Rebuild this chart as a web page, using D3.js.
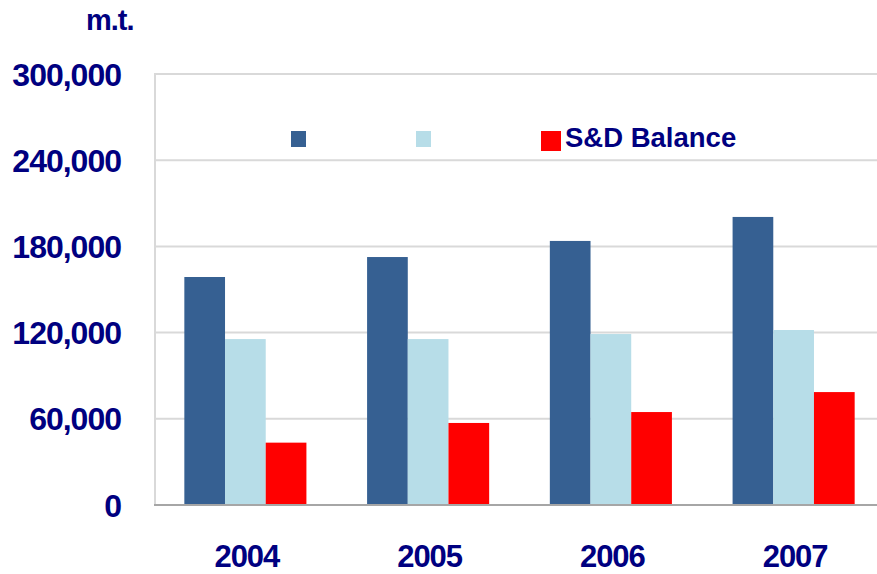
<!DOCTYPE html>
<html>
<head>
<meta charset="utf-8">
<script src="https://cdn.jsdelivr.net/npm/d3@7"></script>
<style>
  html, body { margin: 0; padding: 0; background: #fff; }
  svg { display: block; }
  text { font-family: "Liberation Sans", Arial, sans-serif; font-weight: bold; fill: #000080; }
</style>
</head>
<body>
<div id="chart"></div>
<script>
/* grouped bar chart: supply, demand and S&D balance (m.t.) */

const years = ['2004', '2005', '2006', '2007'];
const seriesNames = ['', '', 'S&D Balance'];
const seriesColors = ['#366092', '#b7dde8', '#ff0000'];
const supply = [158700, 172600, 183800, 200500];
const demand = [115500, 115500, 119000, 121800];
const balance = [43400, 57100, 64700, 78600];
const yTicks = [0, 60000, 120000, 180000, 240000, 300000];

const W = 877, H = 574;
const plotLeft = 155, plotTop = 74, plotBottom = 505;

const svg = d3.select('#chart').append('svg')
  .attr('width', W).attr('height', H);

const y = d3.scaleLinear().domain([0, 300000]).range([plotBottom, plotTop]);
const x = d3.scaleBand().domain(years).range([plotLeft - 1, 885])
  .paddingInner(0.332).paddingOuter(0.166);
const xs = d3.scaleBand().domain([0, 1, 2]).range([0, x.bandwidth()]);

// gridlines
svg.append('g')
  .selectAll('line')
  .data(yTicks.filter((d) => d > 0))
  .join('line')
  .attr('x1', plotLeft).attr('x2', W)
  .attr('y1', (d) => y(d)).attr('y2', (d) => y(d))
  .attr('stroke', '#d9d9d9').attr('stroke-width', 2);

// y axis line
svg.append('line')
  .attr('x1', plotLeft).attr('x2', plotLeft)
  .attr('y1', plotTop - 1).attr('y2', plotBottom)
  .attr('stroke', '#d9d9d9').attr('stroke-width', 2);

// bars
const rows = years.map((yr, i) => ({ year: yr, vals: [supply[i], demand[i], balance[i]] }));
svg.append('g')
  .selectAll('g')
  .data(rows)
  .join('g')
  .attr('transform', (d) => `translate(${x(d.year)},0)`)
  .selectAll('rect')
  .data((d) => d.vals.map((v, k) => ({ v, k })))
  .join('rect')
  .attr('x', (d) => xs(d.k))
  .attr('width', xs.bandwidth())
  .attr('y', (d) => y(d.v))
  .attr('height', (d) => y(0) - y(d.v))
  .attr('fill', (d) => seriesColors[d.k]);

// baseline
svg.append('line')
  .attr('x1', plotLeft - 1).attr('x2', W)
  .attr('y1', plotBottom).attr('y2', plotBottom)
  .attr('stroke', '#a6a6a6').attr('stroke-width', 2);

// y tick labels
const fmt = d3.format(',');
svg.append('g')
  .selectAll('text')
  .data(yTicks)
  .join('text')
  .attr('x', 121)
  .attr('y', (d) => y(d))
  .attr('dy', '0.36em')
  .attr('text-anchor', 'end')
  .style('font-size', '32px')
  .style('letter-spacing', '-1px')
  .text((d) => fmt(d));

// x tick labels
svg.append('g')
  .selectAll('text')
  .data(years)
  .join('text')
  .attr('x', (d) => x(d) + x.bandwidth() / 2 + 1.5)
  .attr('y', 567)
  .attr('text-anchor', 'middle')
  .style('font-size', '31px')
  .style('letter-spacing', '-1px')
  .text((d) => d);

// unit label
svg.append('text')
  .attr('x', 86).attr('y', 30)
  .style('font-size', '29px')
  .style('letter-spacing', '-1px')
  .text('m.t.');

// legend
const legendX = [291, 416, 541];
const legendSize = [15, 15, 20];
const legend = svg.append('g');
seriesNames.forEach((name, k) => {
  legend.append('rect')
    .attr('x', legendX[k]).attr('y', 131)
    .attr('width', legendSize[k]).attr('height', k === 2 ? 20 : 16)
    .attr('fill', seriesColors[k]);
  if (name) {
    legend.append('text')
      .attr('x', legendX[k] + legendSize[k] + 4).attr('y', 146.5)
      .style('font-size', '27.5px')
      .text(name);
  }
});
</script>
</body>
</html>
